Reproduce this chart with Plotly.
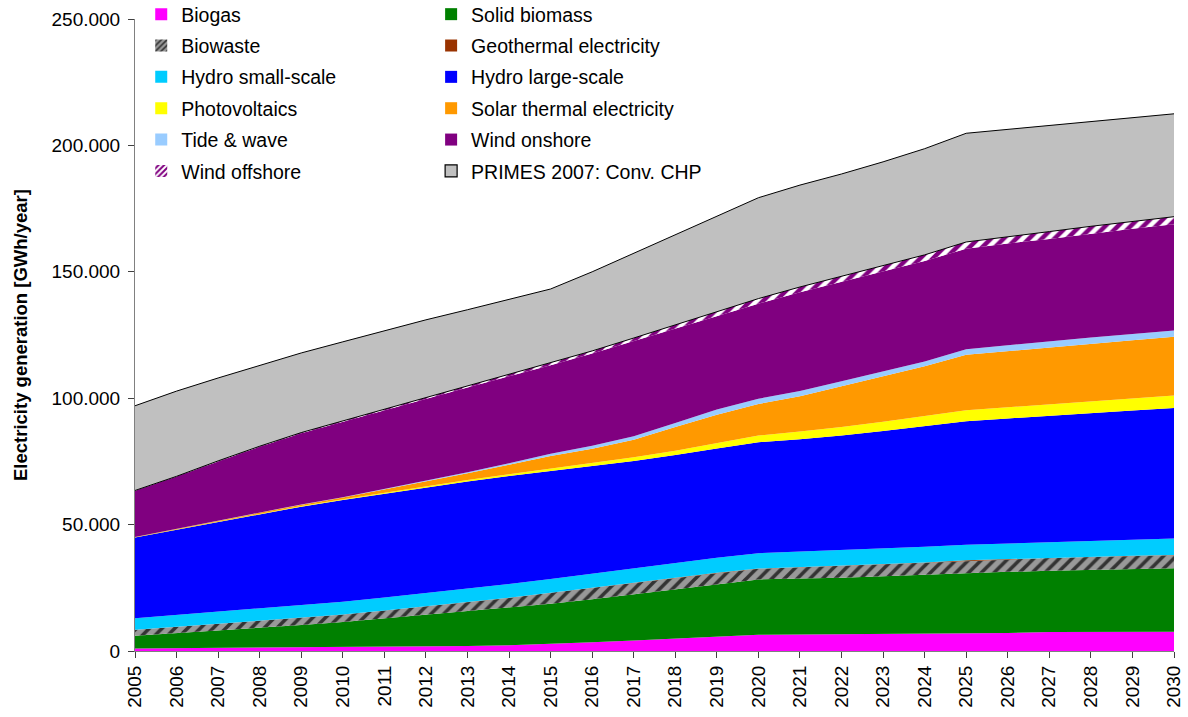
import plotly.graph_objects as go

years = [2005, 2006, 2007, 2008, 2009, 2010, 2011, 2012, 2013, 2014, 2015, 2016, 2017,
         2018, 2019, 2020, 2021, 2022, 2023, 2024, 2025, 2026, 2027, 2028, 2029, 2030]

# Electricity generation in GWh/year
biogas = [1000, 1100, 1200, 1300, 1400, 1500, 1600, 1800, 2000, 2300, 2800, 3500, 4200,
          4900, 5600, 6400, 6500, 6600, 6800, 6900, 7000, 7100, 7500, 7500, 7600, 7600]
solid_biomass = [5000, 5900, 6900, 7900, 8900, 10000, 11300, 12500, 13800, 15000, 15900, 17000, 18200,
                 19400, 20700, 21900, 22200, 22400, 22800, 23300, 23900, 24200, 24200, 24600, 24800, 25100]
biowaste = [2400, 2600, 2700, 2800, 2900, 2900, 3100, 3300, 3500, 3700, 4300, 4500, 4600,
            4700, 4500, 4200, 4400, 4700, 4700, 4700, 4900, 5000, 5100, 5100, 5200, 5200]
geothermal = [0, 0, 0, 0, 0, 0, 0, 0, 50, 100, 100, 150, 200,
              250, 200, 100, 100, 100, 100, 100, 100, 100, 100, 100, 100, 100]
hydro_small = [4600, 4700, 4800, 4900, 5000, 5100, 5200, 5300, 5350, 5400, 5400, 5500, 5600,
               5700, 5900, 6100, 6100, 6100, 6100, 6200, 6100, 6100, 6100, 6200, 6300, 6500]
hydro_large = [31900, 33700, 35600, 37400, 38900, 40200, 41000, 41700, 42300, 42700, 42800, 42550, 42400,
               42550, 43200, 43900, 44500, 45300, 46500, 47700, 48900, 49500, 50100, 50600, 51100, 51600]
photovoltaics = [100, 100, 150, 200, 250, 300, 400, 500, 600, 700, 800, 1000, 1400,
                 1700, 2100, 2600, 3000, 3400, 3700, 4000, 4300, 4400, 4500, 4600, 4800, 5000]
solar_thermal = [100, 200, 250, 400, 550, 700, 1300, 1800, 2700, 3800, 5000, 5800, 7000,
                 9400, 11300, 12500, 14000, 16100, 17900, 19700, 22000, 22300, 22500, 22800, 23000, 23200]
tide_wave = [0, 0, 100, 100, 100, 100, 200, 300, 400, 600, 900, 1200, 1300,
             1600, 2000, 2100, 2000, 2000, 2000, 1900, 2200, 2300, 2400, 2500, 2500, 2500]
wind_onshore = [18300, 20700, 23300, 25800, 28100, 29900, 31100, 32500, 33500, 34400, 35000, 36500, 37800,
                37400, 37000, 37600, 39100, 39300, 39500, 39800, 39700, 40200, 40500, 41100, 41600, 42000]
wind_offshore = [100, 100, 200, 200, 300, 300, 400, 500, 600, 700, 900, 1000, 1100,
                 1300, 1600, 2000, 2100, 2200, 2300, 2400, 2700, 2800, 2900, 2900, 2900, 3000]
conv_chp = [33500, 33700, 32800, 32000, 31500, 31300, 31200, 30800, 30200, 29600, 29300, 31300, 33500,
            35800, 37900, 39900, 40300, 40500, 41100, 42000, 43000, 42300, 41900, 41400, 41000, 40700]

y_ticks = [0, 50000, 100000, 150000, 200000, 250000]

FONT = "Liberation Sans, Arial, sans-serif"

# (name, values, colour, pattern or None, legend column)
series = [
    ("Biogas", biogas, "#FF00FF", None, "legend"),
    ("Solid biomass", solid_biomass, "#008000", None, "legend2"),
    ("Biowaste", biowaste, "#999999", ("#333333", 0.4), "legend"),
    ("Geothermal electricity", geothermal, "#993300", None, "legend2"),
    ("Hydro small-scale", hydro_small, "#00CCFF", None, "legend"),
    ("Hydro large-scale", hydro_large, "#0000FF", None, "legend2"),
    ("Photovoltaics", photovoltaics, "#FFFF00", None, "legend"),
    ("Solar thermal electricity", solar_thermal, "#FF9900", None, "legend2"),
    ("Tide & wave", tide_wave, "#99CCFF", None, "legend"),
    ("Wind onshore", wind_onshore, "#800080", None, "legend2"),
    ("Wind offshore", wind_offshore, "#800080", ("#FFFFFF", 0.5), "legend"),
    ("PRIMES 2007: Conv. CHP", conv_chp, "#C0C0C0", None, "legend2"),
]

fig = go.Figure()

for name, vals, color, pat, leg in series:
    kw = dict(
        x=years, y=vals, name=name, mode="lines", stackgroup="one",
        fillcolor=color, showlegend=False, hoverinfo="skip",
        line=dict(width=0, color=color),
    )
    if name in ("Wind offshore", "PRIMES 2007: Conv. CHP"):
        kw["line"] = dict(width=1, color="#000000")
    if pat is not None:
        kw["fillpattern"] = dict(shape="/", bgcolor=color, fgcolor=pat[0],
                                 size=9, solidity=pat[1], fillmode="replace")
    fig.add_trace(go.Scatter(**kw))

# legend-only entries with square swatches
for name, vals, color, pat, leg in series:
    marker = dict(color=color, line=dict(width=0))
    if pat is not None:
        marker["pattern"] = dict(shape="/", bgcolor=color, fgcolor=pat[0],
                                 size=5, solidity=pat[1], fillmode="replace")
    if name == "PRIMES 2007: Conv. CHP":
        marker["line"] = dict(width=1.2, color="#000000")
    fig.add_trace(go.Bar(x=[None], y=[None], name=name, marker=marker,
                         legend=leg, legendgroup=name, showlegend=True,
                         hoverinfo="skip"))

legend_common = dict(
    font=dict(family=FONT, size=19.5, color="#000000"),
    bgcolor="rgba(0,0,0,0)", borderwidth=0,
    traceorder="grouped", tracegroupgap=3,
    yanchor="top", xanchor="left", itemwidth=30,
)

fig.update_layout(
    width=1188, height=717,
    margin=dict(l=135, r=14, t=19, b=66, autoexpand=False),
    paper_bgcolor="#FFFFFF", plot_bgcolor="#FFFFFF",
    separators=",.",
    font=dict(family=FONT, size=19, color="#000000"),
    barmode="overlay",
    hovermode=False,
    legend=dict(x=0.006, y=1.038, **legend_common),
    legend2=dict(x=0.285, y=1.038, **legend_common),
    xaxis=dict(
        type="linear", range=[2005, 2030], tickmode="array", tickvals=years,
        ticktext=[str(y) for y in years], tickangle=-90, automargin=False,
        showgrid=False, zeroline=False, showline=True, linecolor="#808080",
        linewidth=1, ticks="outside", ticklen=6, tickcolor="#404040",
        tickfont=dict(family=FONT, size=19, color="#000000"),
    ),
    yaxis=dict(
        range=[0, 250000], tickmode="array", tickvals=y_ticks, automargin=False,
        tickformat=",d", showgrid=False, zeroline=False, showline=True,
        linecolor="#808080", linewidth=1, ticks="outside", ticklen=6,
        ticklabelstandoff=4,
        tickcolor="#404040", tickfont=dict(family=FONT, size=19, color="#000000"),
    ),
    annotations=[dict(
        text="<b>Electricity generation [GWh/year]</b>", textangle=-90,
        xref="paper", yref="paper", x=-115 / 1039, y=0.5,
        xanchor="center", yanchor="middle", showarrow=False,
        font=dict(family=FONT, size=18.5, color="#000000"),
    )],
)

fig.write_html(
    "out.html",
    config={"displayModeBar": False},
    post_script="document.body.style.margin='0';document.body.style.padding='0';",
)
